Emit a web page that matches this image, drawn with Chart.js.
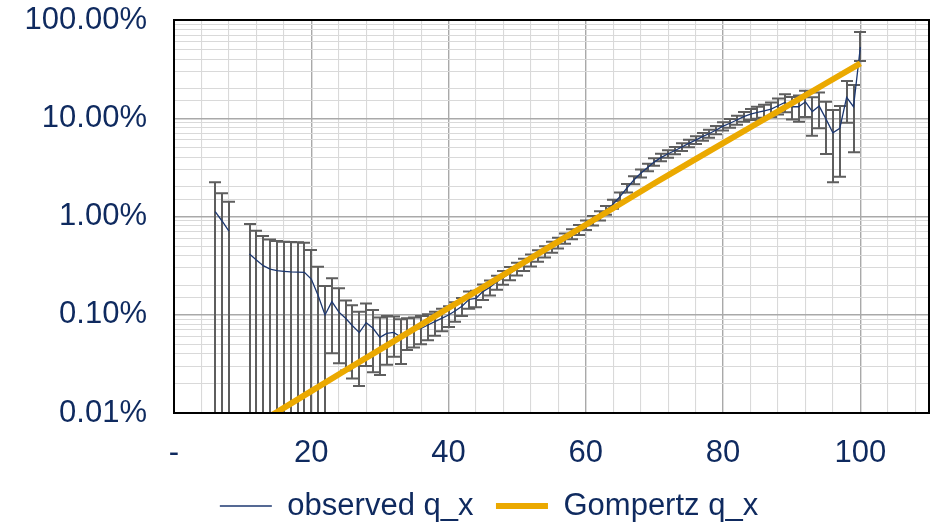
<!DOCTYPE html>
<html>
<head>
<meta charset="utf-8">
<script src="https://cdn.jsdelivr.net/npm/chart.js@4.4.1/dist/chart.umd.min.js"></script>
<style>
  html, body { margin: 0; padding: 0; background: #ffffff; }
  #wrap { width: 938px; height: 525px; }
</style>
</head>
<body>
<div id="wrap"><canvas id="c" width="938" height="525"></canvas></div>
<script>
// ---- Data (values in percent) ----
const ages = [6,7,8,9,10,11,12,13,14,15,16,17,18,19,20,21,22,23,24,25,26,27,28,29,30,
  31,32,33,34,35,36,37,38,39,40,41,42,43,44,45,46,47,48,49,50,51,52,53,54,55,
  56,57,58,59,60,61,62,63,64,65,66,67,68,69,70,71,72,73,74,75,76,77,78,79,80,
  81,82,83,84,85,86,87,88,89,90,91,92,93,94,95,96,97,98,99,100];

const observedQx = [1.12,0.90,0.71,0,null,0.415,0.36,0.316,0.292,0.281,0.277,0.273,0.272,0.270,0.231,0.157,0.0995,0.136,0.107,0.092,
  0.0774,0.0658,0.083,0.0728,0.0589,0.0646,0.0661,0.0598,0.0646,0.070,0.0725,0.0787,0.085,0.092,0.0995,
  0.110,0.1227,0.1436,0.147,0.172,0.19,0.215,0.24,0.265,0.295,0.325,0.36,0.40,0.44,0.49,
  0.54,0.60,0.665,0.735,0.82,0.91,1.02,1.16,1.34,1.60,1.95,2.35,2.75,3.16,3.6,
  4.0,4.35,4.7,5.1,5.55,6.0,6.5,7.0,7.6,8.3,8.9,9.6,10.4,11.0,11.5,11.9,12.4,13.4,14.5,
  13.1,13.1,14.7,11.7,13.3,9.8,7.1,7.9,16.3,13.1,53];

const upperCI = [2.23,1.72,1.41,null,null,0.84,0.718,0.633,0.585,0.563,0.554,0.55,0.548,0.541,0.456,0.308,0.196,0.235,0.186,0.140,
  0.125,0.107,0.130,0.112,0.094,0.097,0.096,0.090,0.092,0.094,0.097,0.101,0.107,0.115,0.122,
  0.134,0.148,0.172,0.175,0.203,0.223,0.25,0.278,0.306,0.339,0.372,0.41,0.454,0.498,0.553,
  0.607,0.673,0.743,0.82,0.912,1.01,1.13,1.28,1.48,1.76,2.14,2.57,3.0,3.44,3.92,
  4.35,4.73,5.11,5.55,6.04,6.54,7.09,7.65,8.32,9.1,9.8,10.6,11.6,12.4,13.1,13.7,14.5,15.9,17.5,
  16.5,17.0,19.1,16.4,18.3,14.75,12.1,13.3,23.9,21.8,75.5];

const lowerCI = [0,0,0,null,null,0,0,0,0,0,0,0,0,0,0,0,0,0.0405,0.032,0.027,
  0.0225,0.0188,0.030,0.026,0.0244,0.031,0.0374,0.0316,0.0438,0.0465,0.050,0.055,0.061,0.068,0.075,
  0.085,0.097,0.115,0.119,0.141,0.157,0.18,0.202,0.224,0.251,0.278,0.31,0.346,0.382,0.427,
  0.473,0.527,0.587,0.65,0.728,0.81,0.91,1.04,1.20,1.44,1.76,2.13,2.5,2.88,3.28,
  3.65,3.97,4.29,4.65,5.06,5.46,5.91,6.35,6.88,7.5,8.0,8.6,9.2,9.6,9.9,10.1,10.3,10.9,11.5,
  9.7,9.2,10.3,6.65,7.9,4.33,2.23,2.54,9.0,4.5,38.3];

const gompertzAges = [14,15,20,25,30,35,40,45,50,55,60,65,70,75,80,85,90,95,100];
const gompertzQx = [0.0093,0.0102,0.0167,0.0272,0.0442,0.0719,0.117,0.19,0.31,0.506,0.824,1.34,2.18,3.5,5.58,8.9,14.2,22.7,36.2];

const xTickLabels = {0:'-',20:'20',40:'40',60:'60',80:'80',100:'100'};
const yTickLabels = {0.01:'0.01%',0.1:'0.10%',1:'1.00%',10:'10.00%',100:'100.00%'};

// ---- Styles ----
const TXT = '#0f2a5f';
const FONT = "'Liberation Sans', Arial, sans-serif";
const NAVY = '#1c3770';
const GOLD = '#eba900';
const GRID_MAJOR = '#a9a9a9';
const GRID_MINOR = '#d9d9d9';

function isDecade(v) { const l = Math.log10(v); return Math.abs(l - Math.round(l)) < 1e-9; }

const errorBars = {
  id: 'errorBars',
  beforeDatasetsDraw(chart) {
    const {ctx, chartArea, scales} = chart;
    const xs = scales.x, ys = scales.y;
    ctx.save();
    ctx.beginPath();
    ctx.rect(chartArea.left, chartArea.top, chartArea.right - chartArea.left, chartArea.bottom - chartArea.top);
    ctx.clip();
    ctx.strokeStyle = '#5e5e5e';
    ctx.lineWidth = 2;
    ages.forEach((a, i) => {
      const hi = upperCI[i], lo = lowerCI[i];
      if (hi == null || lo == null) return;
      const px = Math.round(xs.getPixelForValue(a));
      const yHi = ys.getPixelForValue(hi);
      const yLo = ys.getPixelForValue(lo);
      ctx.beginPath();
      ctx.moveTo(px, yHi); ctx.lineTo(px, yLo);
      ctx.moveTo(px - 6, yHi); ctx.lineTo(px + 6, yHi);
      if (lo > 0) { ctx.moveTo(px - 6, yLo); ctx.lineTo(px + 6, yLo); }
      ctx.stroke();
    });
    ctx.restore();
  }
};

const frame = {
  id: 'frame',
  afterDatasetsDraw(chart) {
    const {ctx, chartArea} = chart;
    ctx.save();
    ctx.strokeStyle = '#000000';
    ctx.lineWidth = 2;
    ctx.strokeRect(chartArea.left, chartArea.top, chartArea.right - chartArea.left, chartArea.bottom - chartArea.top);
    ctx.restore();
  }
};

// shift the legend's centring box so it is centred like the reference
const legendShift = {
  id: 'legendShift',
  afterLayout(chart) {
    if (chart.legend) { chart.legend.left = 49; }
  }
};

new Chart(document.getElementById('c'), {
  type: 'line',
  data: {
    datasets: [
      {
        label: 'observed q_x',
        data: ages.map((a, i) => ({x: a, y: observedQx[i]})),
        borderColor: NAVY,
        backgroundColor: NAVY,
        borderWidth: 1.3,
        pointRadius: 0,
        tension: 0,
        spanGaps: false,
        order: 1
      },
      {
        label: 'Gompertz q_x',
        data: gompertzAges.map((a, i) => ({x: a, y: gompertzQx[i]})),
        borderColor: GOLD,
        backgroundColor: GOLD,
        borderWidth: 6,
        pointRadius: 0,
        tension: 0,
        clip: 0,
        order: 0
      }
    ]
  },
  options: {
    responsive: false,
    animation: false,
    layout: { padding: { left: 0, right: 9, top: 20, bottom: -6.5 } },
    plugins: {
      tooltip: { enabled: false },
      legend: {
        position: 'bottom',
        labels: {
          sort: (a, b) => a.datasetIndex - b.datasetIndex,
          usePointStyle: true,
          pointStyle: 'line',
          pointStyleWidth: 52,
          boxHeight: 6,
          padding: 22.5,
          color: TXT,
          font: { family: FONT, size: 31 }
        }
      }
    },
    scales: {
      x: {
        type: 'linear',
        min: 0, max: 110,
        border: { display: false },
        grid: {
          drawTicks: false,
          color: c => (c.tick && c.tick.value % 20 === 0) ? GRID_MAJOR : GRID_MINOR,
          lineWidth: c => (c.tick && c.tick.value % 20 === 0) ? 1.4 : 1.1
        },
        ticks: {
          stepSize: 4,
          includeBounds: false,
          autoSkip: false,
          maxRotation: 0,
          padding: 22,
          color: TXT,
          font: { family: FONT, size: 31 },
          callback: v => (v in xTickLabels) ? xTickLabels[v] : ''
        },
        afterFit(s) { s.height = 55; s.paddingLeft = 0; s.paddingRight = 0; }
      },
      y: {
        type: 'logarithmic',
        min: 0.01, max: 100,
        border: { display: false },
        grid: {
          drawTicks: false,
          color: c => (c.tick && isDecade(c.tick.value)) ? GRID_MAJOR : GRID_MINOR,
          lineWidth: c => (c.tick && isDecade(c.tick.value)) ? 1.4 : 1.1
        },
        ticks: {
          autoSkip: false,
          padding: 27,
          color: TXT,
          font: { family: FONT, size: 31 },
          callback: v => isDecade(v) ? (yTickLabels[Math.pow(10, Math.round(Math.log10(v)))] || '') : ''
        },
        afterFit(s) { s.width = 174; s.paddingTop = 0; s.paddingBottom = 0; }
      }
    }
  },
  plugins: [errorBars, frame, legendShift]
});
</script>
</body>
</html>
